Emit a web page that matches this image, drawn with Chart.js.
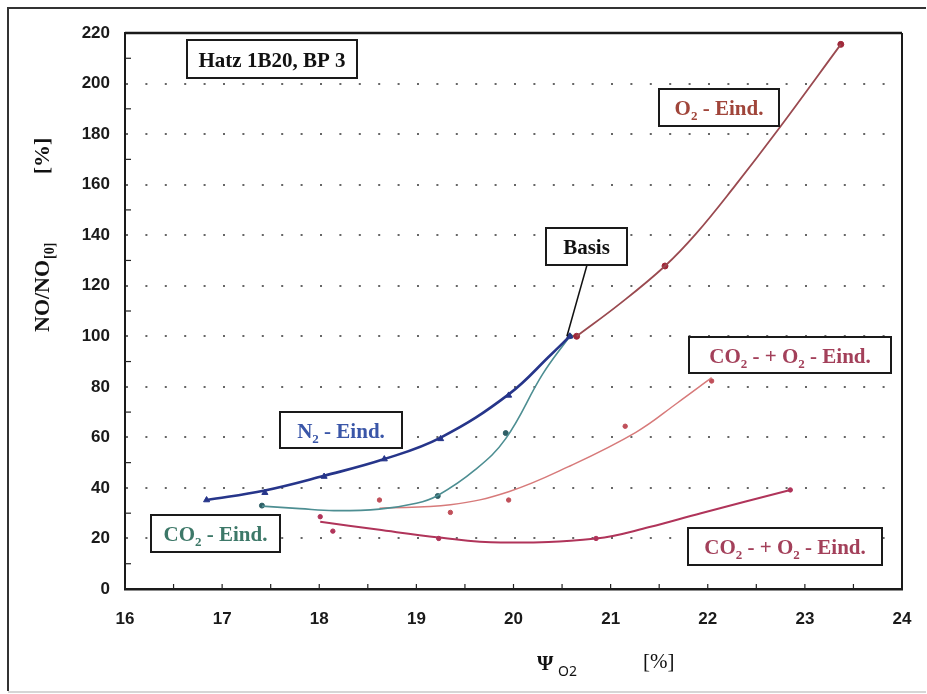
<!DOCTYPE html>
<html>
<head>
<meta charset="utf-8">
<script src="https://cdn.jsdelivr.net/npm/chart.js@4.4.1/dist/chart.umd.min.js"></script>
<style>
  html, body { margin: 0; padding: 0; background: #fff; }
  #chart { display: block; }
</style>
</head>
<body>
<canvas id="chart" width="927" height="694"></canvas>
<script>
// x: Psi O2 [%], y: NO/NO[0] [%]
const xTicks = [16, 17, 18, 19, 20, 21, 22, 23, 24];
const yTicks = [0, 20, 40, 60, 80, 100, 120, 140, 160, 180, 200, 220];

// N2 - Eind. (measured points + drawn curve)
const n2X = [16.84, 17.44, 18.05, 18.67, 19.25, 19.95, 20.58];
const n2Y = [35.2, 38.1, 44.5, 51.4, 59.4, 76.6, 100];
const n2CurveX = [16.84, 17.44, 18.05, 18.67, 19.25, 19.95, 20.39, 20.58];
const n2CurveY = [35.2, 39.0, 44.8, 51.4, 59.9, 77.0, 92.9, 100];

// CO2 - Eind.
const co2X = [17.41, 19.22, 19.92, 20.58];
const co2Y = [33.0, 36.8, 61.7, 100];
const co2CurveX = [17.41, 17.8, 18.15, 18.62, 19.0, 19.22, 19.6, 19.92, 20.3, 20.58];
const co2CurveY = [32.8, 31.8, 31.0, 31.6, 33.9, 37.0, 47.0, 59.5, 85.0, 100];

// O2 - Eind.
const o2X = [20.65, 21.56, 23.37];
const o2Y = [100, 127.8, 215.5];
const o2CurveX = [20.65, 21.1, 21.56, 21.88, 22.28, 22.71, 23.37];
const o2CurveY = [100, 113, 127.8, 140.6, 159.5, 181, 215.5];

// CO2 - + O2 - Eind. (upper)
const mixAX = [18.62, 19.35, 19.95, 21.15, 22.04];
const mixAY = [35.2, 30.3, 35.2, 64.4, 82.3];
const mixACurveX = [18.62, 19.35, 19.95, 20.56, 21.26, 21.69, 22.04];
const mixACurveY = [32.0, 33.3, 38.5, 48.3, 62.0, 73.7, 83.6];

// CO2 - + O2 - Eind. (lower)
const mixBX = [18.01, 18.14, 19.23, 20.85, 22.85];
const mixBY = [28.6, 22.9, 20.0, 20.0, 39.2];
const mixBCurveX = [18.01, 18.6, 19.23, 19.87, 20.85, 21.4, 21.93, 22.85];
const mixBCurveY = [26.6, 23.5, 20.4, 18.4, 20.0, 24.5, 30.0, 39.2];

const SERIF = '"Liberation Serif", "Times New Roman", serif';
const SANS = '"Liberation Sans", Arial, sans-serif';

const mixLabel = [['CO'], ['2', true], [' - + O'], ['2', true], [' - Eind.']];
const labelBoxes = [
  { parts: [['Hatz 1B20, BP 3']], box: [187, 40, 357, 78], color: '#111' },
  { parts: [['N'], ['2', true], [' - Eind.']], box: [280, 412, 402, 448], color: '#3a56a8' },
  { parts: [['CO'], ['2', true], [' - Eind.']], box: [151, 515, 280, 552], color: '#3d7868' },
  { parts: [['Basis']], box: [546, 228, 627, 265], color: '#111' },
  { parts: [['O'], ['2', true], [' - Eind.']], box: [659, 89, 779, 126], color: '#a0453a' },
  { parts: mixLabel, box: [689, 337, 891, 373], color: '#a3405a' },
  { parts: mixLabel, box: [688, 528, 882, 565], color: '#a3405a' }
];

function toPoints(xs, ys) {
  return xs.map((x, i) => ({ x: x, y: ys[i] }));
}

function markerSet(xs, ys, color, style, r) {
  return {
    data: toPoints(xs, ys),
    showLine: false,
    pointStyle: style,
    pointRadius: r,
    pointBackgroundColor: color,
    pointBorderColor: color,
    pointBorderWidth: 1
  };
}

function curveSet(xs, ys, color, width) {
  return {
    data: toPoints(xs, ys),
    showLine: true,
    borderColor: color,
    borderWidth: width,
    pointRadius: 0,
    tension: 0.4,
    fill: false
  };
}

function drawRich(ctx, parts, cx, baseY, color, size, weight) {
  const mainFont = weight + ' ' + size + 'px ' + SERIF;
  const subFont = weight + ' ' + Math.round(size * 0.62) + 'px ' + SERIF;
  let w = 0;
  parts.forEach(p => { ctx.font = p[1] ? subFont : mainFont; w += ctx.measureText(p[0]).width; });
  let x = cx - w / 2;
  ctx.fillStyle = color;
  ctx.textAlign = 'left';
  ctx.textBaseline = 'alphabetic';
  parts.forEach(p => {
    ctx.font = p[1] ? subFont : mainFont;
    ctx.fillText(p[0], x, p[1] ? baseY + size * 0.25 : baseY);
    x += ctx.measureText(p[0]).width;
  });
}

const decor = {
  id: 'decor',
  afterDatasetsDraw(chart) {
    const ctx = chart.ctx;
    const xs = chart.scales.x, ys = chart.scales.y;
    ctx.save();
    // leader from "Basis" box to the base point
    ctx.strokeStyle = '#111';
    ctx.lineWidth = 1.5;
    ctx.beginPath();
    ctx.moveTo(587, 265);
    ctx.lineTo(xs.getPixelForValue(20.55), ys.getPixelForValue(100));
    ctx.stroke();
    labelBoxes.forEach(b => {
      const [x1, y1, x2, y2] = b.box;
      ctx.fillStyle = '#fff';
      ctx.fillRect(x1, y1, x2 - x1, y2 - y1);
      ctx.strokeStyle = '#1a1a1a';
      ctx.lineWidth = 2;
      ctx.strokeRect(x1, y1, x2 - x1, y2 - y1);
      drawRich(ctx, b.parts, (x1 + x2) / 2, (y1 + y2) / 2 + 7.5, b.color, 21, 'bold');
    });
    ctx.restore();
  },
  afterDraw(chart) {
    const ctx = chart.ctx;
    const a = chart.chartArea;
    const xs = chart.scales.x, ys = chart.scales.y;
    ctx.save();
    // frame of the plot (top and right)
    ctx.strokeStyle = '#1a1a1a';
    ctx.lineWidth = 2.5;
    ctx.beginPath();
    ctx.moveTo(a.left, a.top);
    ctx.lineTo(a.right, a.top);
    ctx.stroke();
    ctx.lineWidth = 2;
    ctx.beginPath();
    ctx.moveTo(a.right, a.top);
    ctx.lineTo(a.right, a.bottom);
    ctx.stroke();
    // minor tick marks inside the axes
    ctx.lineWidth = 1.2;
    ctx.strokeStyle = '#222';
    for (let i = 0; i < yTicks.length - 1; i++) {
      const py = ys.getPixelForValue((yTicks[i] + yTicks[i + 1]) / 2);
      ctx.beginPath();
      ctx.moveTo(a.left, py);
      ctx.lineTo(a.left + 6, py);
      ctx.stroke();
    }
    for (let i = 0; i < xTicks.length - 1; i++) {
      [xTicks[i], (xTicks[i] + xTicks[i + 1]) / 2].forEach(v => {
        const px = xs.getPixelForValue(v);
        ctx.beginPath();
        ctx.moveTo(px, a.bottom);
        ctx.lineTo(px, a.bottom - 5);
        ctx.stroke();
      });
    }
    // outer frame
    ctx.strokeStyle = '#333';
    ctx.lineWidth = 2;
    ctx.beginPath();
    ctx.moveTo(926, 8);
    ctx.lineTo(8, 8);
    ctx.lineTo(8, 691);
    ctx.stroke();
    ctx.strokeStyle = '#c8c8c8';
    ctx.lineWidth = 1.5;
    ctx.beginPath();
    ctx.moveTo(8, 692);
    ctx.lineTo(926, 692);
    ctx.stroke();

    // y axis title
    ctx.save();
    ctx.translate(49, 332);
    ctx.rotate(-Math.PI / 2);
    ctx.fillStyle = '#111';
    ctx.textBaseline = 'alphabetic';
    ctx.textAlign = 'left';
    ctx.font = 'bold 22px ' + SERIF;
    ctx.fillText('NO/NO', 0, 0);
    const w = ctx.measureText('NO/NO').width;
    ctx.font = 'bold 14px ' + SERIF;
    ctx.fillText('[0]', w + 1, 5);
    ctx.font = 'bold 22px ' + SERIF;
    ctx.textAlign = 'center';
    ctx.fillText('[%]', 176, 0);
    ctx.restore();

    // x axis title
    ctx.fillStyle = '#111';
    ctx.textAlign = 'left';
    ctx.textBaseline = 'alphabetic';
    ctx.font = 'bold 21px ' + SERIF;
    ctx.fillText('\u03A8', 537, 670);
    ctx.font = '14px "Noto Sans", ' + SANS;
    ctx.fillText('O2', 558, 676);
    ctx.font = '21px ' + SERIF;
    ctx.fillText('[%]', 643, 668);
    ctx.restore();
  }
};

const tickFont = { family: SANS, weight: 'bold', size: 17 };

new Chart(document.getElementById('chart').getContext('2d'), {
  type: 'scatter',
  data: {
    datasets: [
      curveSet(n2CurveX, n2CurveY, '#26358a', 2.6),
      curveSet(co2CurveX, co2CurveY, '#4d8e92', 1.6),
      curveSet(o2CurveX, o2CurveY, '#9a4a50', 1.8),
      curveSet(mixACurveX, mixACurveY, '#d77a7a', 1.5),
      curveSet(mixBCurveX, mixBCurveY, '#b0345a', 2),
      markerSet(n2X, n2Y, '#26358a', 'triangle', 3.5),
      markerSet(co2X, co2Y, '#2f5f66', 'circle', 2.5),
      markerSet(o2X, o2Y, '#a0283a', 'circle', 3),
      markerSet(mixAX, mixAY, '#c0505a', 'circle', 2.2),
      markerSet(mixBX, mixBY, '#b0345a', 'circle', 2.2)
    ]
  },
  options: {
    responsive: false,
    animation: false,
    devicePixelRatio: 1,
    // the x tick padding plus half of the "24" label also reserves room on the right
    layout: { padding: { top: 33, right: 25, bottom: 0, left: 0 } },
    plugins: { legend: { display: false }, tooltip: { enabled: false } },
    scales: {
      x: {
        type: 'linear',
        position: 'bottom',
        min: 16,
        max: 24,
        afterBuildTicks: s => { s.ticks = xTicks.map(v => ({ value: v })); },
        afterFit: s => { s.height = 105; },
        ticks: {
          font: { family: SANS, weight: 'bold', size: 17, lineHeight: 1.75 },
          color: '#1a1a1a',
          padding: 15,
          maxRotation: 0
        },
        grid: { display: false, drawTicks: false },
        border: { display: true, color: '#1a1a1a', width: 2.5 }
      },
      y: {
        type: 'linear',
        min: 0,
        max: 220,
        afterBuildTicks: s => { s.ticks = yTicks.map(v => ({ value: v })); },
        afterFit: s => { s.width = 125; },
        ticks: { font: tickFont, color: '#1a1a1a', padding: 15 },
        grid: {
          drawTicks: false,
          lineWidth: 2,
          color: c => (c.tick && (c.tick.value === 0 || c.tick.value === 220)) ? 'rgba(0,0,0,0)' : '#666'
        },
        border: { display: true, color: '#1a1a1a', width: 2, dash: [2, 17.4] }
      }
    }
  },
  plugins: [decor]
});
</script>
</body>
</html>
